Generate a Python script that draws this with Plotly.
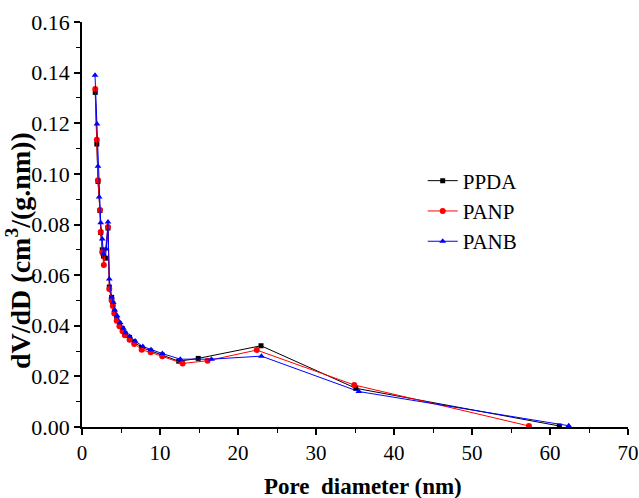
import plotly.graph_objects as go

# PPDA (black squares)
ppda_x = [1.7, 1.9, 2.05, 2.3, 2.4, 2.6, 2.75, 3.0, 3.33, 3.5, 3.8, 3.95, 4.15, 4.45, 4.8, 5.2, 5.5, 6.1, 6.7, 7.65, 8.8, 10.3, 12.4, 14.9, 22.95, 35.1, 61.2]
ppda_y = [0.1322, 0.1118, 0.0970, 0.0855, 0.0768, 0.0700, 0.0675, 0.0667, 0.0786, 0.0553, 0.0512, 0.0488, 0.0455, 0.0428, 0.0407, 0.0388, 0.0370, 0.0354, 0.0336, 0.0314, 0.0300, 0.0284, 0.0260, 0.0271, 0.0321, 0.0153, 0.0004]

# PANP (red circles)
panp_x = [1.7, 1.9, 2.05, 2.3, 2.4, 2.6, 2.8, 3.33, 3.5, 3.8, 3.95, 4.15, 4.45, 4.8, 5.2, 5.5, 6.1, 6.7, 7.65, 8.8, 10.3, 12.9, 16.1, 22.4, 34.9, 57.3]
panp_y = [0.1335, 0.1135, 0.0975, 0.0857, 0.0770, 0.0690, 0.0640, 0.0790, 0.0545, 0.0500, 0.0478, 0.0448, 0.0420, 0.0398, 0.0378, 0.0362, 0.0345, 0.0328, 0.0305, 0.0295, 0.0280, 0.0251, 0.0262, 0.0304, 0.0166, 0.0004]

# PANB (blue triangles)
panb_x = [1.67, 1.92, 2.05, 2.2, 2.4, 2.6, 2.75, 3.1, 3.33, 3.5, 3.8, 4.0, 4.2, 4.5, 4.9, 5.3, 5.6, 6.1, 6.8, 7.8, 8.85, 10.3, 12.6, 16.6, 23.0, 35.5, 62.4]
panb_y = [0.1390, 0.1197, 0.1030, 0.0909, 0.0807, 0.0743, 0.0683, 0.0703, 0.0810, 0.0585, 0.0514, 0.0492, 0.0462, 0.0440, 0.0412, 0.0390, 0.0372, 0.0358, 0.0340, 0.0318, 0.0305, 0.0290, 0.0268, 0.0268, 0.0280, 0.0140, 0.0005]

x_title = "<b>Pore  diameter (nm)</b>"
y_title = "<b>dV/dD (cm<sup>3</sup>/(g.nm))</b>"

series = [
    ("PPDA", ppda_x, ppda_y, "black", "square", 5),
    ("PANP", panp_x, panp_y, "red", "circle", 6),
    ("PANB", panb_x, panb_y, "blue", "triangle-up", 6),
]

fig = go.Figure()
for name, xs, ys, col, sym, ms in series:
    fig.add_trace(go.Scatter(
        x=xs, y=ys, name=name, mode="lines+markers",
        line=dict(color=col, width=1),
        marker=dict(color=col, symbol=sym, size=ms),
    ))

font_family = "Liberation Serif"
fig.update_layout(
    width=639, height=498,
    margin=dict(l=82, r=11, t=22, b=71),
    paper_bgcolor="white", plot_bgcolor="white",
    font=dict(family=font_family, color="black", size=20),
    showlegend=True,
    legend=dict(x=0.624, y=0.658, xanchor="left", yanchor="top",
                font=dict(family=font_family, size=21, color="black"),
                bgcolor="rgba(0,0,0,0)", tracegroupgap=0),
)
fig.update_xaxes(
    range=[0, 70], dtick=10, tick0=0, automargin=False,
    showline=True, linecolor="black", linewidth=1.5,
    ticks="outside", ticklen=6, tickwidth=1.5, tickcolor="black",
    minor=dict(dtick=5, ticks="outside", ticklen=4, tickcolor="black", tickwidth=1.2),
    showgrid=False, zeroline=False,
    tickfont=dict(family=font_family, size=21),
)
fig.update_yaxes(
    range=[0, 0.16], dtick=0.02, tick0=0, tickformat=".2f", automargin=False,
    showline=True, linecolor="black", linewidth=1.5,
    ticks="outside", ticklen=6, tickwidth=1.5, tickcolor="black",
    minor=dict(dtick=0.01, ticks="outside", ticklen=4, tickcolor="black", tickwidth=1.2),
    showgrid=False, zeroline=False,
    tickfont=dict(family=font_family, size=22),
)
fig.add_annotation(text=x_title, xref="paper", yref="paper", x=0.515, y=-0.146,
                   xanchor="center", yanchor="middle", showarrow=False,
                   font=dict(family=font_family, size=23, color="black"))
fig.add_annotation(text=y_title, xref="paper", yref="paper", x=-0.115, y=0.435,
                   xanchor="center", yanchor="middle", showarrow=False, textangle=-90,
                   font=dict(family=font_family, size=28, color="black"))

fig.write_html("out.html")
